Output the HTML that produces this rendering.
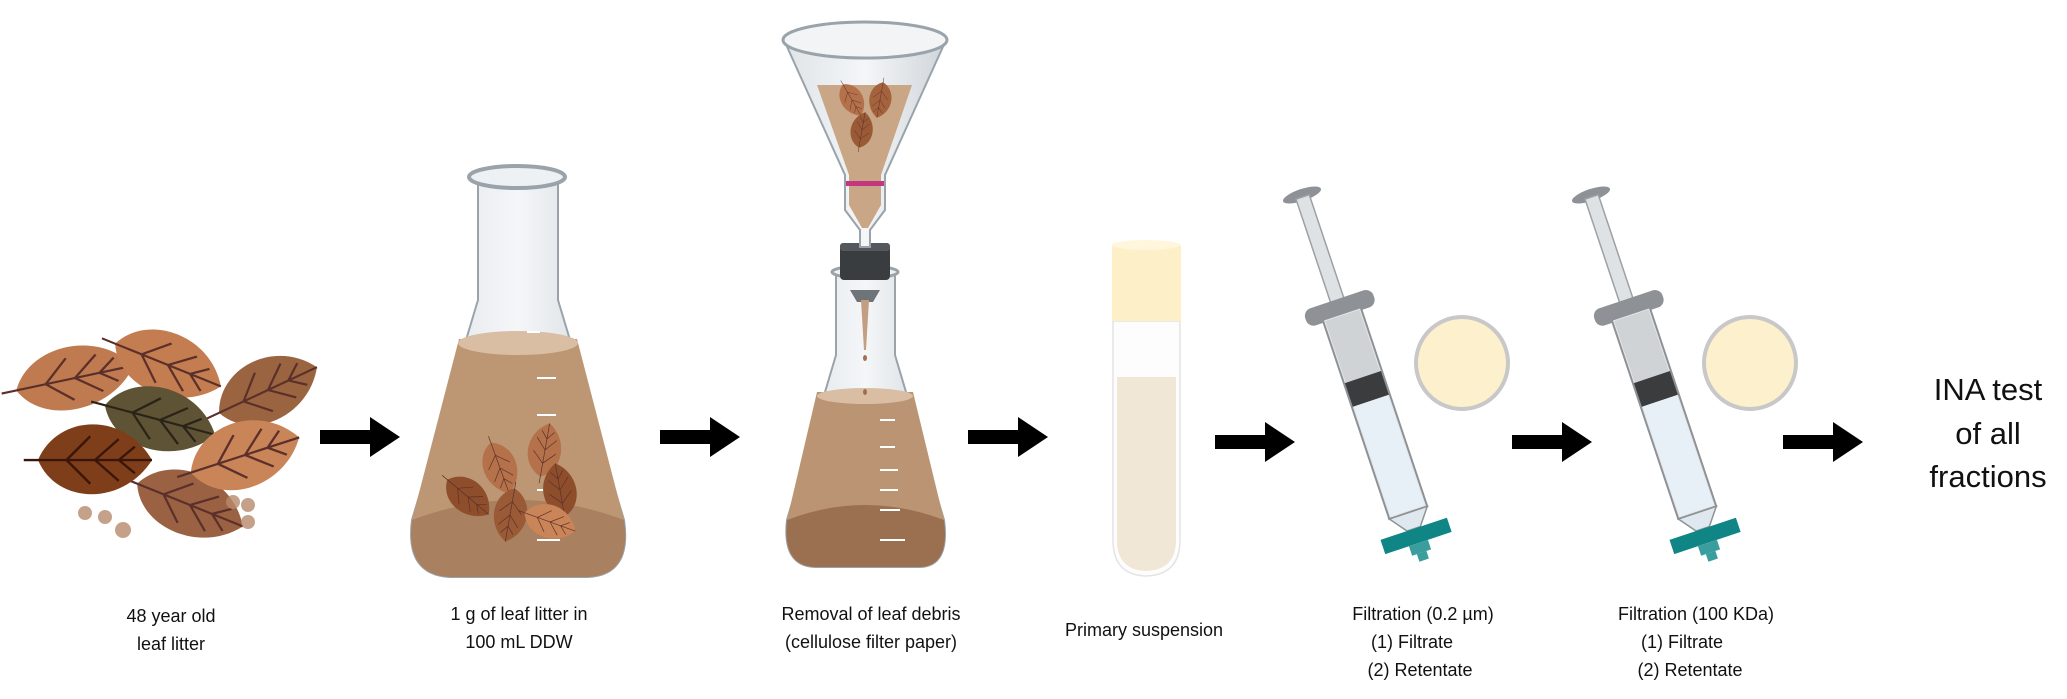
<!DOCTYPE html>
<html><head><meta charset="utf-8"><style>
html,body{margin:0;padding:0;background:#fff;}
svg{display:block;}
text{font-family:"Liberation Sans",sans-serif;fill:#111;}
</style></head><body>
<svg width="2067" height="699" viewBox="0 0 2067 699" xmlns="http://www.w3.org/2000/svg">
<defs>
<path id="leaf" d="M-60,0 C-40,-48 30,-52 60,0 C30,48 -40,48 -60,0Z"/>
<path id="vein" d="M-75,0 L60,0 M-30,0 L-5,-25 M-30,0 L-5,25 M0,0 L25,-22 M0,0 L25,22 M25,0 L42,-14 M25,0 L42,14" fill="none"/>
<path id="arrow" d="M0,-7 L50,-7 L50,-20 L80,0 L50,20 L50,7 L0,7Z" fill="#000"/>
<linearGradient id="glass" x1="0" x2="1"><stop offset="0" stop-color="#dfe4e8"/><stop offset="0.5" stop-color="#f4f6f8"/><stop offset="1" stop-color="#cfd5da"/></linearGradient>
</defs>

<!-- leaves -->
<g stroke="#5b2f2a" stroke-width="2.5">
<g transform="translate(75,378) rotate(-12) scale(1.0,0.85)"><use href="#leaf" fill="#c07a4f" stroke="none"/><use href="#vein"/></g>
<g transform="translate(168,365) rotate(22) scale(0.95,0.85)"><use href="#leaf" fill="#c47d50" stroke="none"/><use href="#vein"/></g>
<g transform="translate(268,390) rotate(-25) scale(0.9,0.85)"><use href="#leaf" fill="#9b6440" stroke="none"/><use href="#vein"/></g>
<g transform="translate(190,505) rotate(22) scale(0.95,0.85)"><use href="#leaf" fill="#9a6242" stroke="none"/><use href="#vein"/></g>
<g transform="translate(160,420) rotate(15) scale(0.95,0.85)"><use href="#leaf" fill="#5f5335" stroke="none"/><use href="#vein" stroke="#2a2418"/></g>
<g transform="translate(245,455) rotate(-18) scale(0.95,0.9)"><use href="#leaf" fill="#c98458" stroke="none"/><use href="#vein"/></g>
<g transform="translate(95,460) rotate(0) scale(0.95,0.95)"><use href="#leaf" fill="#7e3e1a" stroke="none"/><use href="#vein" stroke="#3a160a"/></g>
</g>
<g fill="#b88a6c" opacity="0.8">
<circle cx="85" cy="513" r="7"/><circle cx="105" cy="517" r="7"/><circle cx="123" cy="530" r="8"/><circle cx="233" cy="502" r="7"/><circle cx="248" cy="505" r="7"/><circle cx="248" cy="522" r="7"/>
</g>

<!-- arrows -->
<use href="#arrow" transform="translate(320,437)"/>
<use href="#arrow" transform="translate(660,437)"/>
<use href="#arrow" transform="translate(968,437)"/>
<use href="#arrow" transform="translate(1215,442)"/>
<use href="#arrow" transform="translate(1512,442)"/>
<use href="#arrow" transform="translate(1783,442)"/>

<!-- flask 1 -->
<path d="M478,180 L478,300 L412,520 Q405,575 450,577 L588,577 Q632,575 624,520 L558,300 L558,180Z" fill="url(#glass)" stroke="#9aa3aa" stroke-width="2"/>
<path d="M459,339 L577,339 L624,520 Q632,575 588,577 L450,577 Q405,575 412,520Z" fill="#bd9774"/>
<ellipse cx="518" cy="343" rx="60" ry="12" fill="#d9bea3"/>
<path d="M412,520 Q405,575 450,577 L588,577 Q632,575 624,520 Q518,480 412,520Z" fill="#a98060"/>
<ellipse cx="517" cy="177" rx="48" ry="11" fill="#eef1f3" stroke="#9aa3aa" stroke-width="4"/>
<g stroke="#fff" stroke-width="2"><line x1="527" y1="332" x2="540" y2="332"/><line x1="537" y1="378" x2="556" y2="378"/><line x1="537" y1="415" x2="556" y2="415"/><line x1="537" y1="450" x2="556" y2="450"/><line x1="537" y1="490" x2="556" y2="490"/><line x1="537" y1="540" x2="560" y2="540"/></g>
<g stroke="#5b2f2a" stroke-width="1.5">
<g transform="translate(500,468) rotate(70) scale(0.45,0.45)"><use href="#leaf" fill="#b4714a" stroke="none"/><use href="#vein"/></g>
<g transform="translate(545,450) rotate(-80) scale(0.45,0.45)"><use href="#leaf" fill="#b4714a" stroke="none"/><use href="#vein"/></g>
<g transform="translate(468,497) rotate(40) scale(0.45,0.45)"><use href="#leaf" fill="#8e4e2c" stroke="none"/><use href="#vein"/></g>
<g transform="translate(560,490) rotate(-100) scale(0.45,0.45)"><use href="#leaf" fill="#8e4e2c" stroke="none"/><use href="#vein"/></g>
<g transform="translate(510,515) rotate(100) scale(0.45,0.45)"><use href="#leaf" fill="#9a5a36" stroke="none"/><use href="#vein"/></g>
<g transform="translate(550,522) rotate(20) scale(0.45,0.45)"><use href="#leaf" fill="#c98458" stroke="none"/><use href="#vein"/></g>
</g>

<!-- flask 2 with funnel -->
<path d="M836,272 L836,355 L787,520 Q782,566 815,567 L920,567 Q950,566 944,520 L895,355 L895,272Z" fill="url(#glass)" stroke="#9aa3aa" stroke-width="2"/>
<path d="M817,392 L913,392 L944,520 Q950,566 920,567 L815,567 Q782,566 787,520Z" fill="#bb9573"/>
<ellipse cx="865" cy="396" rx="48" ry="8" fill="#d9bea3"/>
<path d="M787,520 Q782,566 815,567 L920,567 Q950,566 944,520 Q865,490 787,520Z" fill="#9b7050"/>
<g stroke="#fff" stroke-width="2"><line x1="880" y1="420" x2="895" y2="420"/><line x1="880" y1="447" x2="895" y2="447"/><line x1="880" y1="470" x2="898" y2="470"/><line x1="880" y1="490" x2="898" y2="490"/><line x1="880" y1="510" x2="900" y2="510"/><line x1="880" y1="540" x2="905" y2="540"/></g>
<ellipse cx="865" cy="272" rx="33" ry="6" fill="#eef1f3" stroke="#9aa3aa" stroke-width="3"/>
<path d="M850,290 L880,290 L873,302 L857,302Z" fill="#6f7479"/>
<path d="M861,300 L869,300 L866,350 L864,350Z" fill="#c49e80"/>
<ellipse cx="865" cy="358" rx="2" ry="3" fill="#a07050"/>
<ellipse cx="865" cy="392" rx="2" ry="3" fill="#a07050"/>
<rect x="840" y="243" width="50" height="37" rx="4" fill="#3a3d40"/>
<rect x="840" y="243" width="50" height="8" rx="3" fill="#55595d"/>
<path d="M784,40 L946,40 L885,175 L885,210 L870,230 L870,247 L860,247 L860,230 L845,210 L845,175Z" fill="url(#glass)" stroke="#9aa3aa" stroke-width="2"/>
<path d="M817,85 L912,85 L881,175 L881,205 L868,228 L862,228 L849,205 L849,175Z" fill="#c9a685"/>
<ellipse cx="865" cy="40" rx="82" ry="18" fill="#f2f4f6" stroke="#9aa3aa" stroke-width="3"/>
<rect x="846" y="181" width="38" height="5" fill="#c2377f"/>
<g stroke="#5b2f2a" stroke-width="1.5">
<g transform="translate(852,100) rotate(60) scale(0.3,0.3)"><use href="#leaf" fill="#b4714a" stroke="none"/><use href="#vein"/></g>
<g transform="translate(880,100) rotate(100) scale(0.3,0.3)"><use href="#leaf" fill="#a5633d" stroke="none"/><use href="#vein"/></g>
<g transform="translate(862,130) rotate(-80) scale(0.3,0.3)"><use href="#leaf" fill="#9a5a36" stroke="none"/><use href="#vein"/></g>
</g>

<!-- tube -->
<path d="M1113,321 L1180,321 L1180,540 Q1180,575 1146,576 Q1113,575 1113,540Z" fill="#fdfdfd" stroke="#e4e4e4" stroke-width="1.5"/>
<path d="M1117,377 L1176,377 L1176,540 Q1176,570 1146,571 Q1117,570 1117,540Z" fill="#f1e7d6"/>
<rect x="1112" y="245" width="69" height="76" fill="#fdf0c8"/>
<ellipse cx="1146" cy="245" rx="34.5" ry="5" fill="#fff6dc"/>

<!-- syringes -->
<g id="syr" transform="translate(1302,195) rotate(-18.5)">
<ellipse cx="0" cy="0" rx="20" ry="6" fill="#8e9296"/>
<rect x="-7" y="2" width="14" height="115" fill="#dfe2e4" stroke="#9ca1a5" stroke-width="1.5"/>
<rect x="-36" y="110" width="72" height="18" rx="8" fill="#8e9296"/>
<rect x="-20" y="125" width="40" height="210" fill="#e4e7e9" stroke="#8e9296" stroke-width="2"/>
<rect x="-18" y="127" width="36" height="65" fill="#cfd3d6"/>
<rect x="-19" y="192" width="38" height="25" fill="#3a3c3e"/>
<rect x="-18" y="217" width="36" height="116" fill="#e6f0f6"/>
<path d="M-20,335 L-7,352 L7,352 L20,335Z" fill="#dfe8ee" stroke="#8e9296" stroke-width="1.5"/>
<rect x="-35" y="352" width="70" height="15" fill="#0f8585"/>
<rect x="-10" y="367" width="20" height="10" fill="#3a9e9e"/>
<rect x="-5" y="377" width="10" height="8" fill="#3a9e9e"/>
</g>
<use href="#syr" transform="translate(289,0)"/>
<circle cx="1462" cy="363" r="46" fill="#fdf0cd" stroke="#c8c8c8" stroke-width="4"/>
<circle cx="1750" cy="363" r="46" fill="#fdf0cd" stroke="#c8c8c8" stroke-width="4"/>

<!-- labels -->
<g font-size="18" text-anchor="middle">
<text x="171" y="622">48 year old</text>
<text x="171" y="650">leaf litter</text>
<text x="519" y="620">1 g of leaf litter in</text>
<text x="519" y="648">100 mL DDW</text>
<text x="871" y="620">Removal of leaf debris</text>
<text x="871" y="648">(cellulose filter paper)</text>
<text x="1144" y="636">Primary suspension</text>
<text x="1423" y="620">Filtration (0.2 µm)</text>
<text x="1412" y="648">(1) Filtrate</text>
<text x="1420" y="676">(2) Retentate</text>
<text x="1696" y="620">Filtration (100 KDa)</text>
<text x="1682" y="648">(1) Filtrate</text>
<text x="1690" y="676">(2) Retentate</text>
</g>
<g font-size="31" text-anchor="middle">
<text x="1988" y="400">INA test</text>
<text x="1988" y="444">of all</text>
<text x="1988" y="487">fractions</text>
</g>
</svg>
</body></html>
